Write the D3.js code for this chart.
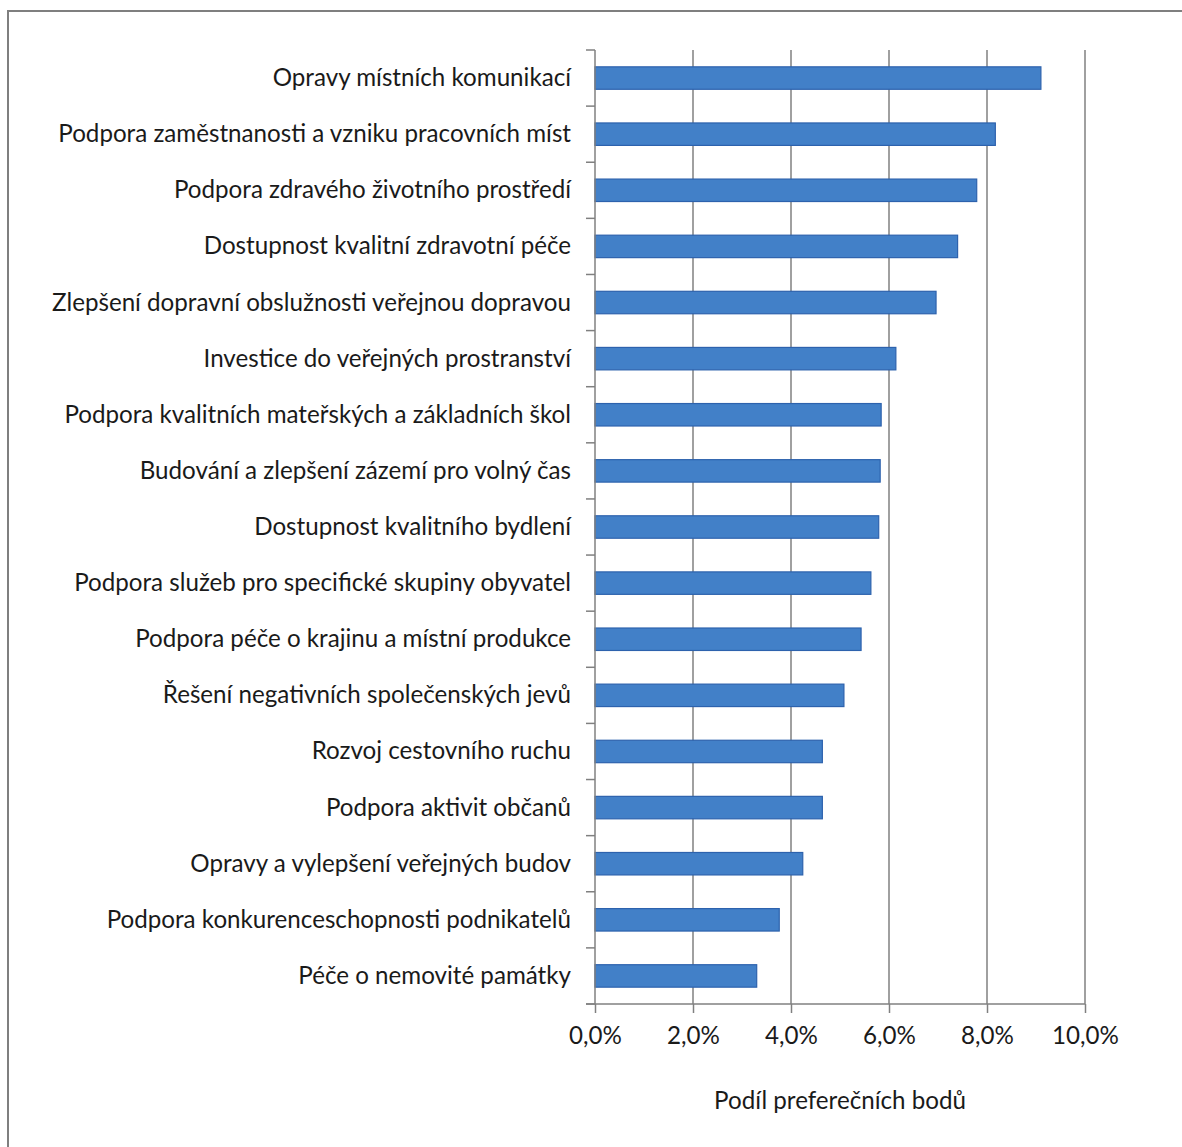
<!DOCTYPE html>
<html>
<head>
<meta charset="utf-8">
<script src="https://cdn.jsdelivr.net/npm/d3@7"></script>
<style>
  html, body { margin: 0; padding: 0; background: #fff; }
  svg { display: block; }
</style>
</head>
<body>
<script>
const categories = [
  "Opravy místních komunikací",
  "Podpora zaměstnanosti a vzniku pracovních míst",
  "Podpora zdravého životního prostředí",
  "Dostupnost kvalitní zdravotní péče",
  "Zlepšení dopravní obslužnosti veřejnou dopravou",
  "Investice do veřejných prostranství",
  "Podpora kvalitních mateřských a základních škol",
  "Budování a zlepšení zázemí pro volný čas",
  "Dostupnost kvalitního bydlení",
  "Podpora služeb pro specifické skupiny obyvatel",
  "Podpora péče o krajinu a místní produkce",
  "Řešení negativních společenských jevů",
  "Rozvoj cestovního ruchu",
  "Podpora aktivit občanů",
  "Opravy a vylepšení veřejných budov",
  "Podpora konkurenceschopnosti podnikatelů ",
  "Péče o nemovité památky"
];
const values = [9.10, 8.17, 7.79, 7.40, 6.96, 6.14, 5.84, 5.82, 5.79, 5.63, 5.43, 5.08, 4.64, 4.64, 4.24, 3.76, 3.30];
const xTicks = [0, 2, 4, 6, 8, 10];
const xAxisTitle = "Podíl preferečních bodů";

const W = 1182, H = 1147;
const FONT = "Lato, 'Open Sans', sans-serif";
const svg = d3.select("body").append("svg").attr("width", W).attr("height", H);

svg.append("rect").attr("width", W).attr("height", H).attr("fill", "#fff");
// outer frame (top and left visible)
svg.append("rect")
  .attr("x", 8).attr("y", 11).attr("width", W + 20).attr("height", H + 20)
  .attr("fill", "none").attr("stroke", "#7f7f7f").attr("stroke-width", 2);

const x0 = 595, x1 = 1085, yTop = 50, yBot = 1004;
const x = d3.scaleLinear().domain([0, 10]).range([x0, x1]);
const y = d3.scaleBand().domain(categories).range([yTop, yBot]).paddingInner(0.6).paddingOuter(0.3);
const yb = d3.scaleBand().domain(categories).range([yTop, yBot]);

// gridlines
svg.append("g").selectAll("line").data(xTicks.filter(d => d > 0)).join("line")
  .attr("x1", d => x(d)).attr("x2", d => x(d))
  .attr("y1", yTop).attr("y2", yBot)
  .attr("stroke", "#808080").attr("stroke-width", 1.5);

// bars
svg.append("g").selectAll("rect").data(values).join("rect")
  .attr("x", x(0))
  .attr("y", (d, i) => y(categories[i]))
  .attr("width", d => x(d) - x(0))
  .attr("height", y.bandwidth())
  .attr("fill", "#4280c8")
  .attr("stroke", "#2d62ad")
  .attr("stroke-width", 1.2);

// y axis line and ticks at band boundaries
const yAxisG = svg.append("g");
yAxisG.append("line").attr("x1", x0).attr("x2", x0).attr("y1", yTop).attr("y2", yBot)
  .attr("stroke", "#808080").attr("stroke-width", 1.5);
const bounds = categories.map(c => yb(c)).concat([yBot]);
yAxisG.selectAll("line.t").data(bounds).join("line").attr("class", "t")
  .attr("x1", x0 - 9).attr("x2", x0).attr("y1", d => d).attr("y2", d => d)
  .attr("stroke", "#808080").attr("stroke-width", 1.5);

// category labels
const labels = svg.append("g").selectAll("text").data(categories).join("text")
  .attr("x", 571)
  .attr("y", d => yb(d) + yb.bandwidth() / 2 - 1.5)
  .attr("text-anchor", "end")
  .attr("dominant-baseline", "central")
  .attr("font-family", FONT)
  .attr("font-size", 20)
  .attr("fill", "#1a1a1a")
  .text(d => d);
// fit font size so the longest label spans ~513px
const longest = labels.filter(d => d.startsWith("Podpora zaměstnanosti")).node();
const w = longest.getComputedTextLength();
const fs = 20 * 513 / w;
labels.attr("font-size", fs);

// x axis
const xAxis = d3.axisBottom(x).tickValues(xTicks).tickSize(9).tickSizeOuter(0)
  .tickFormat(d => d3.format(".1f")(d).replace(".", ",") + "%");
const xg = svg.append("g").attr("transform", `translate(0,${yBot})`).call(xAxis);
xg.select(".domain").remove();
xg.append("line").attr("x1", 586).attr("x2", x1).attr("y1", 0).attr("y2", 0)
  .attr("stroke", "#808080").attr("stroke-width", 1.5);
xg.selectAll(".tick line").attr("stroke", "#808080").attr("stroke-width", 1.5);
xg.selectAll(".tick text")
  .attr("font-family", FONT).attr("font-size", fs).attr("fill", "#1a1a1a")
  .attr("y", 32).attr("dy", "0.35em");

svg.append("text")
  .attr("x", 840).attr("y", 1099)
  .attr("text-anchor", "middle").attr("dominant-baseline", "central")
  .attr("font-family", FONT).attr("font-size", fs).attr("fill", "#1a1a1a")
  .text(xAxisTitle);
</script>
</body>
</html>
